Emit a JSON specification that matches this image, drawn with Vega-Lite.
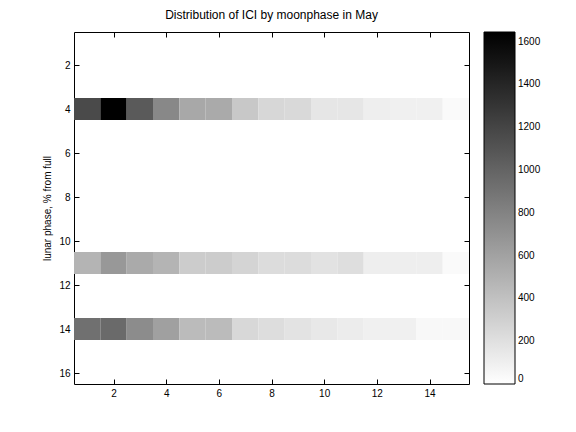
{
  "$schema": "https://vega.github.io/schema/vega-lite/v6.json",
  "width": 395,
  "height": 352,
  "autosize": "none",
  "padding": {"left": 74, "top": 32, "right": 107, "bottom": 48},
  "background": "white",
  "title": {"text": "Distribution of ICI by moonphase in May", "font": "Liberation Sans", "fontSize": 12, "fontWeight": "normal", "color": "black", "offset": 10},
  "config": {
    "view": {"stroke": "black", "strokeWidth": 1},
    "axis": {"labelFont": "Liberation Sans", "labelFontSize": 10, "labelColor": "black", "titleFont": "Liberation Sans", "titleFontSize": 10, "titleFontWeight": "normal", "titleColor": "black", "domain": false, "grid": false, "tickColor": "black", "tickSize": -5, "labelPadding": 9}
  },
  "data": {"values": [
    {"x": 1, "y": 4, "v": 1168}, {"x": 2, "y": 4, "v": 1645}, {"x": 3, "y": 4, "v": 1064}, {"x": 4, "y": 4, "v": 768}, {"x": 5, "y": 4, "v": 561},
    {"x": 6, "y": 4, "v": 548}, {"x": 7, "y": 4, "v": 355}, {"x": 8, "y": 4, "v": 260}, {"x": 9, "y": 4, "v": 245}, {"x": 10, "y": 4, "v": 161},
    {"x": 11, "y": 4, "v": 161}, {"x": 12, "y": 4, "v": 110}, {"x": 13, "y": 4, "v": 97}, {"x": 14, "y": 4, "v": 97}, {"x": 15, "y": 4, "v": 32},
    {"x": 1, "y": 11, "v": 484}, {"x": 2, "y": 11, "v": 664}, {"x": 3, "y": 11, "v": 548}, {"x": 4, "y": 11, "v": 484}, {"x": 5, "y": 11, "v": 329},
    {"x": 6, "y": 11, "v": 329}, {"x": 7, "y": 11, "v": 277}, {"x": 8, "y": 11, "v": 226}, {"x": 9, "y": 11, "v": 226}, {"x": 10, "y": 11, "v": 187},
    {"x": 11, "y": 11, "v": 210}, {"x": 12, "y": 11, "v": 110}, {"x": 13, "y": 11, "v": 110}, {"x": 14, "y": 11, "v": 110}, {"x": 15, "y": 11, "v": 32},
    {"x": 1, "y": 14, "v": 922}, {"x": 2, "y": 14, "v": 961}, {"x": 3, "y": 14, "v": 742}, {"x": 4, "y": 14, "v": 613}, {"x": 5, "y": 14, "v": 439},
    {"x": 6, "y": 14, "v": 439}, {"x": 7, "y": 14, "v": 252}, {"x": 8, "y": 14, "v": 220}, {"x": 9, "y": 14, "v": 180}, {"x": 10, "y": 14, "v": 148},
    {"x": 11, "y": 14, "v": 123}, {"x": 12, "y": 14, "v": 97}, {"x": 13, "y": 14, "v": 97}, {"x": 14, "y": 14, "v": 45}, {"x": 15, "y": 14, "v": 45}
  ]},
  "layer": [
    {
      "mark": {"type": "rect", "width": 26.34, "height": 22},
      "encoding": {
        "x": {"field": "x", "type": "quantitative", "scale": {"domain": [0.5, 15.5], "nice": false, "zero": false},
          "axis": {"values": [2, 4, 6, 8, 10, 12, 14], "title": null, "orient": "bottom"}},
        "y": {"field": "y", "type": "quantitative", "scale": {"domain": [0.5, 16.5], "nice": false, "zero": false, "reverse": true},
          "axis": {"values": [2, 4, 6, 8, 10, 12, 14, 16], "title": "lunar phase, % from full", "orient": "left", "titlePadding": 6}},
        "color": {"field": "v", "type": "quantitative",
          "scale": {"domain": [0, 1645], "range": ["#ffffff", "#000000"], "interpolate": "rgb"},
          "legend": {"orient": "none", "legendX": 410, "legendY": 0, "title": null, "direction": "vertical",
            "gradientLength": 352, "gradientThickness": 31, "gradientStrokeColor": "black", "gradientStrokeWidth": 1,
            "values": [0, 200, 400, 600, 800, 1000, 1200, 1400, 1600], "format": "d",
            "labelFont": "Liberation Sans", "labelFontSize": 10, "labelColor": "black", "labelOffset": 3}}
      }
    },
    {
      "mark": {"type": "point", "opacity": 0},
      "encoding": {
        "x": {"field": "x", "type": "quantitative", "scale": {"domain": [0.5, 15.5], "nice": false, "zero": false},
          "axis": {"values": [2, 4, 6, 8, 10, 12, 14], "title": null, "orient": "top", "labels": false}},
        "y": {"field": "y", "type": "quantitative", "scale": {"domain": [0.5, 16.5], "nice": false, "zero": false, "reverse": true},
          "axis": {"values": [2, 4, 6, 8, 10, 12, 14, 16], "title": null, "orient": "right", "labels": false}}
      }
    }
  ],
  "resolve": {"axis": {"x": "independent", "y": "independent"}}
}
